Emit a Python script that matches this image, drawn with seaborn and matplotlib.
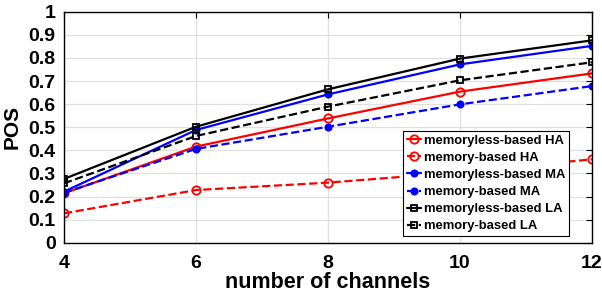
import matplotlib
matplotlib.use("Agg")
import matplotlib.pyplot as plt
import seaborn as sns
import pandas as pd

channels = [4, 6, 8, 10, 12]
memoryless_HA = [0.214, 0.416, 0.538, 0.654, 0.733]
memory_HA = [0.127, 0.228, 0.260, 0.305, 0.361]
memoryless_MA = [0.221, 0.488, 0.642, 0.772, 0.852]
memory_MA = [0.216, 0.406, 0.502, 0.599, 0.678]
memoryless_LA = [0.276, 0.502, 0.664, 0.797, 0.876]
memory_LA = [0.257, 0.462, 0.589, 0.703, 0.781]

series = [
    ("memoryless-based HA", memoryless_HA, "red", "o", "-", "none"),
    ("memory-based HA", memory_HA, "red", "o", "--", "none"),
    ("memoryless-based MA", memoryless_MA, "blue", "o", "-", "blue"),
    ("memory-based MA", memory_MA, "blue", "o", "--", "blue"),
    ("memoryless-based LA", memoryless_LA, "black", "s", "-", "none"),
    ("memory-based LA", memory_LA, "black", "s", "--", "none"),
]

sns.set_style("white")
plt.rcParams["font.family"] = ["Liberation Sans", "DejaVu Sans"]
plt.rcParams["font.weight"] = "bold"
plt.rcParams["text.color"] = "black"
plt.rcParams["axes.labelcolor"] = "black"
plt.rcParams["xtick.color"] = "black"
plt.rcParams["ytick.color"] = "black"

fig = plt.figure(figsize=(6.02, 2.95), dpi=100)
ax = fig.add_axes([64 / 602, 1 - 242.7 / 295, 528 / 602, 231 / 295])

for name, vals, color, marker, ls, mfc in series:
    df = pd.DataFrame({"x": channels, "y": vals})
    if marker == "s":
        ms = 5
    elif mfc != "none":
        ms = 4.5
    else:
        ms = 6
    sns.lineplot(data=df, x="x", y="y", ax=ax, color=color, linestyle=ls,
                 marker=marker, markersize=ms, markerfacecolor=mfc,
                 markeredgecolor=color, markeredgewidth=1.3, linewidth=1.6,
                 label=name)

ax.set_xlim(4, 12)
ax.set_ylim(0, 1)
ax.set_xticks([4, 6, 8, 10, 12])
ax.set_yticks([i / 10 for i in range(11)])
ax.set_yticklabels(["0", "0.1", "0.2", "0.3", "0.4", "0.5", "0.6", "0.7", "0.8", "0.9", "1"])
ax.grid(True, color="#e0e0e0", linewidth=0.9)
ax.set_axisbelow(True)
for s in ax.spines.values():
    s.set_visible(True)
    s.set_color("black")
    s.set_linewidth(1.0)
ax.tick_params(axis="both", which="major", direction="in", length=4, width=0.8,
               top=True, right=True, labelsize=14, pad=6, colors="black")
ax.tick_params(axis="x", pad=9)
for lab in ax.get_xticklabels() + ax.get_yticklabels():
    lab.set_fontweight("bold")
ax.set_xlabel("number of channels", fontsize=15.5, fontweight="bold", labelpad=0)
ax.set_ylabel("POS", fontsize=15, fontweight="bold", labelpad=5)

leg = ax.legend(loc="lower right", bbox_to_anchor=(0.957, 0.028), fontsize=9.4,
                frameon=True, fancybox=False, edgecolor="black", framealpha=1,
                handlelength=1.1, handletextpad=0.2, borderpad=0.3,
                labelspacing=0.38, borderaxespad=0)
leg.get_frame().set_linewidth(0.8)
for t in leg.get_texts():
    t.set_fontweight("bold")
    t.set_color("black")

fig.savefig("out.png", dpi=100)
